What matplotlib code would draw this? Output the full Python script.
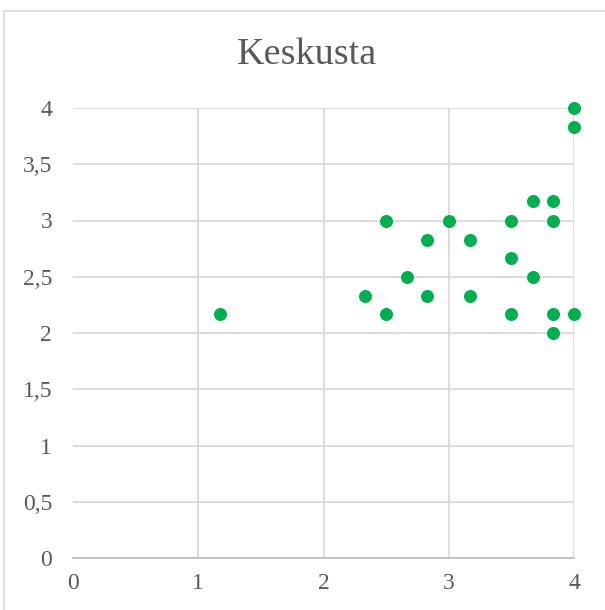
import matplotlib.pyplot as plt
from matplotlib.patches import Rectangle
from matplotlib.ticker import FuncFormatter

# data
x_vals = [1.17, 2.33, 2.5, 2.5, 2.67, 2.83, 2.83, 3.0, 3.17, 3.17, 3.5,
          3.5, 3.5, 3.67, 3.67, 3.83, 3.83, 3.83, 3.83, 4.0, 4.0, 4.0]
y_vals = [2.17, 2.33, 3.0, 2.17, 2.5, 2.83, 2.33, 3.0, 2.83, 2.33, 3.0,
          2.67, 2.17, 3.17, 2.5, 3.17, 3.0, 2.17, 2.0, 4.0, 3.83, 2.17]
x_ticks = [0, 1, 2, 3, 4]
y_ticks = [0, 0.5, 1, 1.5, 2, 2.5, 3, 3.5, 4]
title = 'Keskusta'

text_color = '#595959'
grid_color = '#D9D9D9'
point_color = '#00B050'

plt.rcParams['font.family'] = ['Liberation Serif', 'DejaVu Serif']

W, H = 605, 610
fig = plt.figure(figsize=(W / 100, H / 100), dpi=100)
fig.patch.set_facecolor('white')

# outer chart border (runs off the right and bottom edges)
fig.patches.append(Rectangle((4 / W, -0.1), 1.2, 1.1 - 11 / H, transform=fig.transFigure,
                             fill=False, edgecolor=grid_color, linewidth=1.2))

ax = fig.add_axes([73 / W, 1 - 558 / H, (574 - 73) / W, (558 - 108) / H])
ax.scatter(x_vals, y_vals, s=88, color=point_color, zorder=3, clip_on=False,
           linewidths=0)

ax.set_xlim(0, 4)
ax.set_ylim(0, 4)
ax.set_xticks(x_ticks)
ax.set_yticks(y_ticks)

def comma(v, pos):
    s = f'{v:g}'
    return s.replace('.', ',')

ax.xaxis.set_major_formatter(FuncFormatter(comma))
ax.yaxis.set_major_formatter(FuncFormatter(comma))

ax.grid(True, color=grid_color, linewidth=1.3)
ax.set_axisbelow(True)
ax.xaxis.get_gridlines()[0].set_visible(False)

for side in ['left', 'top', 'right']:
    ax.spines[side].set_visible(False)
ax.spines['bottom'].set_color('#BFBFBF')
ax.spines['bottom'].set_linewidth(1.3)

ax.tick_params(length=0, labelsize=17, labelcolor=text_color)
ax.tick_params(axis='x', pad=11)
ax.tick_params(axis='y', pad=15)

fig.text(307 / W, 1 - 55 / H, title, ha='center', va='center',
         fontsize=27.5, color=text_color)

fig.savefig('out.png', dpi=100)
